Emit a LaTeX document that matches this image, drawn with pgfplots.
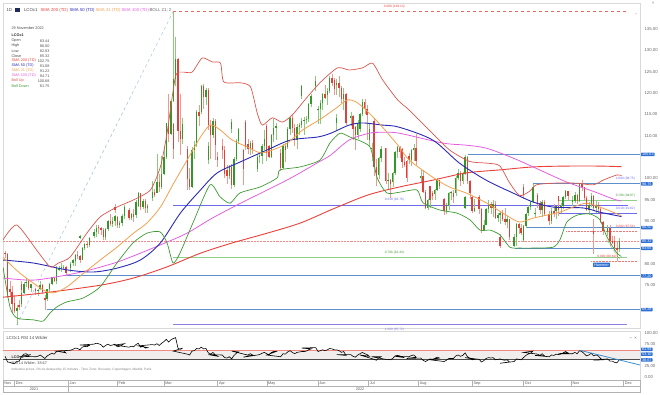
\documentclass[border=0pt]{standalone}
\usepackage{pgfplots}
\pgfplotsset{compat=1.18}
\usepackage{pgfplotstable}
\usepackage{fontspec}
\setmainfont{Liberation Sans}
\definecolor{upc}{HTML}{35962A}
\definecolor{upw}{HTML}{8CC97C}
\definecolor{dnc}{HTML}{E0403A}
\definecolor{dnw}{HTML}{F09890}
\definecolor{smaR}{HTML}{E8413A}
\definecolor{smaB}{HTML}{2A2AB5}
\definecolor{smaO}{HTML}{F2A04E}
\definecolor{smaM}{HTML}{E35FE0}
\definecolor{bolU}{HTML}{D9564C}
\definecolor{bolD}{HTML}{3E9A32}
\definecolor{hl}{HTML}{5E8FCB}
\definecolor{boxb}{HTML}{2D6FD2}
\definecolor{fibP}{HTML}{8C7FE0}
\definecolor{fibB}{HTML}{6B6BEB}
\definecolor{fibG}{HTML}{8FCF8A}
\definecolor{fibGt}{HTML}{3E9A32}
\definecolor{lbl}{HTML}{666666}
\definecolor{navy}{HTML}{1F2A5C}
\definecolor{rsiband}{HTML}{F2EDED}
\definecolor{rsired}{HTML}{F08A80}
\definecolor{rsiblue}{HTML}{3D8FD0}
\newcommand\fa{\fontsize{4.3}{5}\selectfont}
\newcommand\fb{\fontsize{3.8}{4.4}\selectfont}
\newcommand\fc{\fontsize{3.2}{3.8}\selectfont}
\tikzset{pbox/.style={fill=boxb, text=white, font=\fb, inner xsep=1pt, inner ysep=0.4pt, rounded corners=0.6pt, anchor=west, xshift=0.8pt}}
% calendar day (0 = 1 Dec 2021) -> trading-day slot; lines read from the picture use the linear equivalent
\pgfplotsset{
  tdx/.style={x filter/.expression={5*floor((x+9)/7)+min(mod(x+9,7),5)-7}},
  lin/.style={x filter/.expression={0.214+0.7156*x}},
}

\pgfplotstableread{
d o h l c
1 69.0 70.3 65.7 69.7
5 70.5 73.6 70.0 73.1
6 73.2 75.8 73.0 75.4
7 75.5 76.6 74.5 75.8
9 74.3 75.4 73.4 75.2
14 73.6 74.2 72.4 73.9
15 74.0 75.9 73.8 75.0
20 71.7 74.1 71.4 74.0
21 74.0 75.5 73.3 75.3
22 75.3 77.0 75.0 76.9
26 76.0 78.7 75.4 78.6
27 78.6 79.6 78.3 78.9
28 79.0 80.1 78.2 79.2
29 79.1 79.7 78.5 79.3
33 77.9 79.6 77.6 79.0
34 79.1 80.4 78.2 80.0
35 80.1 81.1 79.5 80.8
36 80.7 82.4 79.5 82.0
41 81.0 83.9 80.8 83.7
42 83.7 85.0 83.3 84.7
44 84.4 86.3 83.9 86.1
47 86.1 86.7 85.8 86.5
48 86.5 88.1 86.1 87.5
49 87.5 89.2 86.4 88.4
55 86.3 88.4 85.6 88.2
56 88.2 90.2 87.6 90.0
58 89.3 91.0 88.6 90.0
61 90.0 91.4 88.8 91.2
63 89.2 90.0 88.3 89.5
64 89.5 91.7 88.8 91.1
65 91.1 93.7 90.6 93.3
70 90.8 92.0 90.2 91.6
72 91.4 95.0 90.7 94.4
75 94.4 96.8 94.0 96.5
77 93.3 95.2 92.9 94.8
79 93.0 94.0 91.9 93.5
82 93.5 96.0 93.3 95.4
83 95.4 99.5 94.7 96.8
85 96.7 105.8 96.7 99.1
89 97.9 105.3 97.5 101.0
90 101.0 107.5 100.9 105.0
91 105.0 113.0 104.5 112.9
93 110.5 118.2 110.1 118.1
96 118.1 139.1 117.9 123.2
97 123.2 133.2 121.6 128.0
100 109.3 114.1 108.0 112.7
106 98.0 107.3 97.7 106.6
107 106.6 108.8 104.5 107.9
110 107.9 116.0 107.4 115.6
112 115.5 122.0 115.1 121.6
114 119.0 121.3 117.1 120.7
119 110.2 114.2 109.5 113.5
124 104.4 108.5 103.5 107.5
128 100.6 103.2 99.9 102.8
132 98.5 105.1 98.1 104.6
133 104.6 109.2 104.0 108.8
134 108.8 111.9 108.0 111.7
138 111.7 114.0 110.7 113.2
141 106.8 108.8 105.5 108.3
146 102.3 105.6 101.4 105.0
147 105.0 106.3 103.6 105.3
148 105.3 108.0 103.3 107.6
149 107.6 111.4 106.7 109.3
152 107.1 108.6 104.1 107.6
154 105.0 110.4 104.9 110.1
155 110.1 114.0 108.5 111.9
156 111.9 113.0 109.1 112.4
161 102.5 108.0 102.1 107.5
163 107.4 112.1 106.9 111.6
166 111.6 114.5 110.2 114.2
169 109.1 112.7 106.9 112.0
170 112.0 113.0 110.2 112.6
173 112.6 114.2 111.9 113.4
174 113.4 114.4 110.2 113.6
175 113.6 114.6 112.8 114.0
176 114.0 117.6 113.2 117.4
177 117.4 119.8 116.8 119.4
180 119.4 122.0 118.6 121.7
181 121.7 124.0 120.5 122.8
182 116.0 117.0 112.7 116.3
183 116.3 118.4 112.7 117.6
184 117.6 120.0 116.0 119.7
188 119.5 121.1 117.2 120.6
189 120.6 124.0 120.0 123.6
194 122.0 123.4 119.6 122.3
197 118.5 121.2 116.1 119.8
201 113.1 115.1 111.2 114.1
202 114.1 115.5 112.4 114.7
205 110.1 113.6 109.2 113.1
208 113.1 115.3 111.8 115.1
209 115.1 118.6 114.6 118.0
212 109.0 113.0 107.6 111.6
215 111.6 114.0 110.9 113.5
218 100.7 105.0 99.9 104.7
219 104.7 107.5 103.8 107.0
222 107.0 108.4 104.0 107.1
224 99.5 101.2 97.3 99.6
226 99.1 101.4 98.1 101.2
229 101.2 106.5 100.9 106.3
230 106.3 107.7 104.7 107.4
236 103.2 105.3 102.6 105.2
238 104.4 107.0 103.0 106.6
239 106.6 108.0 104.2 107.1
244 100.0 101.9 98.9 100.5
247 93.1 95.3 92.7 94.9
250 94.9 97.0 93.2 96.7
252 96.3 97.6 94.9 97.4
253 97.4 100.1 97.0 99.6
259 92.3 94.2 91.6 93.7
260 93.7 96.9 92.7 96.6
261 96.6 97.1 94.9 96.8
265 96.5 100.6 95.9 100.2
266 100.2 102.2 99.6 101.2
268 99.3 101.5 98.8 101.0
271 101.0 105.6 100.7 105.1
275 92.4 95.1 92.1 93.0
278 93.0 96.0 92.9 95.7
281 88.0 90.3 87.6 89.2
282 89.2 93.0 89.0 92.8
285 92.8 94.9 92.0 94.0
287 93.2 95.0 91.0 94.1
289 90.8 91.8 89.8 91.4
292 91.4 92.3 89.4 92.0
295 89.8 91.1 88.3 90.5
300 84.1 86.9 84.0 86.3
301 86.3 89.6 84.2 89.3
306 85.5 89.0 85.1 88.9
307 88.9 91.8 88.4 91.7
308 91.8 93.9 91.1 93.4
309 93.4 94.8 92.6 94.4
310 94.4 98.75 94.2 97.9
316 92.5 95.0 90.9 94.6
320 91.6 93.1 91.0 91.9
322 90.0 93.0 89.4 92.4
324 92.3 93.6 90.4 93.5
328 93.3 94.3 91.8 93.6
329 93.5 96.0 92.9 95.7
330 95.7 97.4 95.1 97.0
335 94.6 95.9 93.6 95.0
336 94.7 96.8 94.3 96.2
338 94.7 98.7 94.5 98.6
344 92.7 94.6 91.5 93.7
345 93.7 96.5 93.3 96.0
349 93.1 95.0 91.9 93.9
356 87.5 89.2 86.5 88.4
363 83.44 86.0 82.83 85.32
}\upT

\pgfplotstableread{
d o h l c
-6 82.5 82.9 81.4 82.2
-5 82.2 82.6 72.1 72.7
-2 74.2 76.0 72.5 73.4
-1 73.3 74.8 68.6 70.6
0 70.8 72.6 68.6 68.9
2 70.3 71.6 69.3 69.9
8 75.9 76.2 73.9 74.4
12 75.3 75.9 73.5 73.9
13 74.0 74.4 72.7 73.7
16 75.0 75.2 72.9 73.5
19 72.0 72.8 69.3 71.5
23 76.8 76.9 75.8 76.1
30 79.3 79.4 77.2 77.8
37 82.0 82.9 81.2 81.8
40 81.8 82.0 80.2 80.9
43 84.7 85.3 83.7 84.5
50 88.7 89.1 86.9 88.3
51 88.3 88.6 86.7 87.9
54 87.9 88.3 85.5 86.3
57 90.0 91.7 88.9 89.3
62 91.0 91.2 88.5 89.2
68 93.3 94.0 92.0 92.7
69 92.7 93.0 90.2 90.8
71 91.6 92.8 89.9 91.0
76 96.5 96.6 92.6 93.3
78 94.8 95.1 91.8 93.0
84 96.8 97.6 95.6 96.2
86 99.1 101.0 96.9 97.9
92 112.9 119.8 108.6 110.5
98 128.0 128.3 108.5 111.1
99 111.1 119.8 105.6 109.3
103 112.7 113.0 104.5 106.9
104 106.9 107.6 97.4 99.9
105 99.9 102.4 97.2 98.0
111 115.6 117.2 112.4 114.6
113 121.6 122.2 116.3 119.0
117 120.7 121.1 111.3 112.5
118 112.5 113.6 104.5 110.2
120 113.5 113.9 104.4 107.9
121 105.1 106.3 102.6 104.4
125 107.5 109.2 104.5 106.6
126 106.6 107.5 100.2 101.1
127 101.9 103.2 98.8 100.6
131 102.8 103.3 97.6 98.5
139 113.2 113.6 106.7 107.3
140 108.0 109.2 105.7 106.8
142 108.3 108.9 105.7 106.7
145 106.7 107.0 98.5 102.3
153 107.6 107.9 104.7 105.0
159 112.4 112.7 105.0 105.9
160 105.9 106.9 101.7 102.5
162 107.5 108.4 103.9 106.6
167 114.2 114.8 110.7 111.9
168 111.9 112.8 107.7 109.1
187 119.7 121.9 118.6 118.9
190 123.6 124.4 121.7 122.4
191 123.1 123.6 119.6 121.0
195 122.3 124.0 119.0 121.2
196 121.2 121.7 117.7 118.5
198 119.8 120.1 112.5 113.1
203 114.7 114.8 108.9 111.7
204 112.0 112.3 106.7 110.1
210 118.0 118.5 115.0 116.3
211 116.3 117.3 109.0 114.8
216 113.5 114.0 100.5 102.8
217 102.8 104.6 98.3 100.7
223 107.1 107.2 98.8 99.5
225 99.6 99.8 95.4 98.6
231 107.4 107.7 104.8 106.2
232 106.9 107.1 102.4 103.9
233 103.9 105.1 102.6 103.2
237 105.2 106.0 103.5 104.4
240 107.1 110.5 103.2 104.0
243 104.0 104.4 99.1 100.0
245 100.5 102.0 96.5 96.8
246 96.8 97.4 92.8 93.1
251 96.7 97.0 94.9 95.8
254 99.6 99.7 97.5 98.2
257 98.2 98.3 94.2 95.1
258 95.1 95.4 91.5 92.3
264 96.7 97.3 94.3 95.6
267 101.2 101.8 98.3 99.3
272 105.1 105.3 98.8 99.3
273 99.3 99.6 95.2 96.5
274 95.6 95.9 91.8 92.4
279 95.7 96.1 91.7 92.8
280 92.8 93.0 87.2 88.0
286 94.0 94.6 91.7 93.2
288 94.1 94.8 90.6 90.8
293 92.0 92.5 90.1 90.6
294 90.6 93.0 89.2 89.8
296 90.5 90.6 85.6 86.2
299 86.2 87.0 83.65 84.1
302 89.3 89.6 87.0 88.5
303 88.5 89.4 86.7 87.2
313 97.9 98.75 95.3 96.2
314 96.2 96.5 93.0 94.3
315 94.3 94.7 91.6 92.5
317 94.6 95.0 91.3 91.6
321 91.7 92.4 89.1 90.0
323 92.4 94.0 91.0 91.6
327 93.5 94.0 91.2 92.6
331 97.0 97.1 95.0 95.8
334 95.8 96.0 93.5 94.8
337 96.2 96.4 94.0 94.7
341 98.6 99.6 97.0 97.9
342 97.9 98.0 94.9 95.4
343 95.4 96.0 92.3 92.7
348 96.0 96.2 92.6 93.1
350 93.9 94.6 92.0 92.9
351 92.9 93.0 89.6 89.8
352 89.8 90.1 86.8 87.6
355 87.6 90.5 82.4 86.9
357 88.4 89.2 84.3 85.4
358 85.4 86.5 84.7 85.0
359 85.3 86.6 83.0 83.6
362 83.6 85.3 80.6 83.2
}\dnT

\begin{document}
\begin{tikzpicture}[x=1pt,y=1pt]
\path[use as bounding box] (0pt,0pt) rectangle (660pt,-394pt);

% ---------------- main price panel ----------------
\begin{axis}[
  at={(3pt,-3pt)}, anchor=north west, scale only axis,
  width=637pt, height=325pt,
  xmin=-4.93, xmax=267.9, ymin=64.98, ymax=141.09,
  clip mode=individual,
  axis line style={draw=black!15, line width=0.4pt},
  xtick=\empty,
  ytick={75,80,90,95,100,110,115,120,125,130,135},
  yticklabels={75.00,80.00,90.00,95.00,100.00,110.00,115.00,120.00,125.00,130.00,135.00},
  yticklabel pos=right,
  yticklabel style={font=\fa, text=lbl, xshift=1pt},
  major tick length=0pt, tick style={draw=none},
]
% fibonacci retracement 139.13 -> 65.72
\addplot[lin, smaR!80, line width=0.45pt, dashed] coordinates {(94.7,139.13) (366,139.13)};
\addplot[lin, fibB, line width=0.7pt] coordinates {(94.7,93.76) (367,93.76)};
\addplot[lin, fibG, line width=0.8pt] coordinates {(94.7,81.43) (366,81.43)};
\addplot[lin, fibP, line width=0.8pt] coordinates {(94.7,65.72) (366,65.72)};
\node[font=\fc, text=smaR, anchor=south] at (axis cs:162.7,139.13) {0.000 (139.13)};
\node[font=\fc, text=fibB, anchor=south] at (axis cs:162.7,93.76) {0.618 (93.76)};
\node[font=\fc, text=fibGt, anchor=south] at (axis cs:162.7,81.43) {0.786 (81.43)};
\node[font=\fc, text=fibP, anchor=north] at (axis cs:162.7,65.72) {1.000 (65.72)};
% recent fibonacci
\addplot[lin, fibG, line width=0.5pt] coordinates {(325,94.87) (372,94.87)};
\addplot[lin, fibB, line width=0.5pt] coordinates {(325,91.82) (372,91.82)};
\addplot[lin, smaR!70, line width=0.45pt, densely dotted] coordinates {(330,87.54) (372,87.54)};
\addplot[lin, smaR!70, line width=0.45pt, densely dotted] coordinates {(345,80.61) (372,80.61)};
\node[font=\fc, text=fibB, anchor=south east] at (axis cs:267.2,98.75) {1.000 (98.75)};
\node[font=\fc, text=fibGt, anchor=south east] at (axis cs:267.2,94.87) {0.786 (94.87)};
\node[font=\fc, text=fibB, anchor=south east] at (axis cs:267.2,91.82) {0.618 (91.82)};
\node[font=\fc, text=smaR, anchor=south east] at (axis cs:267.2,87.54) {0.382 (87.54)};
\node[font=\fc, text=smaR, anchor=south east] at (axis cs:259.3,80.61) {0.000 (80.61)};
% trend line
\addplot[lin, hl!60, line width=0.5pt, dashed] coordinates {(1,65.72) (94.7,139.13)};
% support / resistance
\addplot[lin, hl, line width=0.9pt] coordinates {(271,105.63) (374,105.63)};
\addplot[lin, hl, line width=0.9pt] coordinates {(310,98.75) (374,98.75)};
\addplot[lin, hl, line width=0.9pt] coordinates {(306,88.50) (374,88.50)};
\addplot[lin, hl, line width=0.9pt] coordinates {(299,83.65) (374,83.65)};
\addplot[lin, hl, line width=0.9pt] coordinates {(30,77.20) (374,77.20)};
\addplot[lin, hl, line width=0.9pt] coordinates {(19,69.28) (374,69.28)};
\addplot[lin, smaR!60, line width=0.45pt, densely dotted] coordinates {(-7.2,85.32) (374,85.32)};
% candles (wicks and bodies as vertical segments)
\addplot[tdx, upw, line width=0.45pt, forget plot, quiver={u=0, v=\thisrow{h}-\thisrow{l}}] table[x=d, y=l] \upT;
\addplot[tdx, dnw, line width=0.45pt, forget plot, quiver={u=0, v=\thisrow{h}-\thisrow{l}}] table[x=d, y=l] \dnT;
\addplot[tdx, upc, line width=1.4pt, forget plot, quiver={u=0, v=\thisrow{c}-\thisrow{o}}] table[x=d, y=o] \upT;
\addplot[tdx, dnc, line width=1.4pt, forget plot, quiver={u=0, v=\thisrow{o}-\thisrow{c}}] table[x=d, y=c] \dnT;
% SMA 200
\addplot[lin, smaR, line width=0.9pt, smooth, tension=0.5] coordinates {(-7.2,72.2) (17,73.2) (51,75.0) (71,76.7) (91,79.3) (111,82.5) (130,84.9) (151,87.2) (171,89.6) (190,92.8) (211,96.1) (230,98.0) (250,99.6) (270,101.3) (290,102.0) (310,102.7) (330,102.9) (350,102.9) (363,102.75)};
% SMA 100
\addplot[lin, smaM, line width=0.8pt, smooth, tension=0.5] coordinates {(-7.2,76.7) (11,76.2) (31,77.4) (45,78.6) (61,80.4) (75,82.5) (91,85.1) (103,87.2) (118,90.7) (135,94.2) (151,97.3) (166,100.3) (182,103.9) (189,105.5) (200,109.0) (212,110.6) (220,110.8) (230,110.6) (256,108.3) (270,107.8) (282,107.1) (298,104.8) (314,102.0) (330,99.2) (346,97.0) (358,95.2) (363,94.71)};
% SMA 50
\addplot[lin, smaB, line width=0.9pt, smooth, tension=0.5] coordinates {(-7.2,80.9) (11,80.2) (31,78.6) (47,78.1) (61,79.0) (75,80.9) (87,84.9) (99,91.9) (111,97.3) (121,101.3) (135,103.9) (151,106.7) (165,109.0) (181,109.7) (189,110.6) (200,112.5) (208,113.0) (220,112.5) (230,112.0) (250,109.0) (266,103.6) (282,99.6) (298,96.6) (310,94.5) (322,93.3) (340,93.1) (350,92.1) (363,91.08)};
% SMA 21
\addplot[lin, smaO, line width=0.8pt, smooth, tension=0.5] coordinates {(-7.2,81.6) (3,77.8) (17,73.9) (23,73.2) (31,74.6) (41,77.8) (51,80.9) (61,83.9) (71,87.2) (79,89.6) (87,93.3) (95,98.9) (103,104.3) (111,109.7) (117,112.5) (123,111.3) (130,109.0) (139,107.4) (147,106.0) (155,106.8) (163,108.3) (172,111.3) (182,113.7) (188,115.3) (193,116.7) (199,118.4) (205,117.7) (212,115.3) (220,112.0) (230,107.4) (236,104.3) (250,100.3) (260,98.0) (270,96.6) (282,94.3) (294,91.4) (302,89.8) (310,90.7) (318,91.4) (326,92.1) (334,93.3) (342,94.2) (350,93.3) (358,92.1) (363,91.22)};
% Bollinger up
\addplot[lin, bolU, line width=0.7pt, smooth, tension=0.4] coordinates {(-7.2,85.6) (1,89.1) (13,83.2) (21,79.3) (26,80.2) (33,81.6) (43,87.2) (51,91.0) (61,93.3) (71,95.0) (81,97.3) (87,102.7) (91,110.6) (96,123.8) (100,124.9) (106,124.9) (112,128.2) (118,127.3) (123,127.0) (125,122.6) (135,122.4) (141,121.4) (145,115.3) (148,112.5) (154,114.2) (160,113.2) (166,114.9) (175,119.1) (183,122.6) (193,125.9) (200,125.4) (208,125.9) (214,127.0) (220,123.1) (229,118.4) (236,116.0) (248,111.3) (260,106.7) (272,104.0) (282,103.6) (290,103.0) (296,99.0) (302,96.0) (308,97.0) (312,98.5) (322,98.9) (336,98.9) (346,98.5) (352,99.6) (360,100.8) (363,100.68)};
% Bollinger down
\addplot[lin, bolD, line width=0.7pt, smooth, tension=0.4] coordinates {(-7.2,79.3) (-3,69.9) (1.2,67.3) (10.8,66.9) (16.8,66.6) (21,68.5) (25,69.9) (31,71.1) (40.7,72) (50.9,74.6) (61,80.2) (70.6,84.9) (79,87.2) (86.8,87.5) (91,84.9) (94.6,80.2) (98.7,82.5) (106.5,89.6) (116.7,98.5) (122.7,95.7) (128.7,94.2) (134.6,96.6) (146.6,98) (156.8,100.1) (158.6,102) (170.6,102.7) (182.5,104.3) (188.5,108.3) (194.5,110.6) (200.5,109.7) (212.4,107.4) (216.6,100.3) (222.6,96.6) (230.4,96.8) (240.6,97.3) (244.2,94.3) (254.3,92.6) (264.5,91.9) (272.3,90.3) (278.3,87.9) (284.3,87.9) (290.2,86.8) (296.2,83.9) (302.2,83.7) (310,83.7) (322,83.9) (326.1,85.6) (330.3,89.8) (336.3,91.4) (344.1,91.7) (350.1,90.3) (354.3,86.3) (360.3,82.5) (363,81.75)};
\addplot[lin, bolD, line width=0.5pt, densely dotted] coordinates {(354,85.6) (362,81.0)};
% price boxes
\node[pbox] at (axis cs:267.9,105.63) {105.63};
\node[pbox] at (axis cs:267.9,98.75) {98.75};
\node[pbox] at (axis cs:267.9,88.50) {88.50};
\node[pbox] at (axis cs:267.9,85.32) {85.32};
\node[pbox] at (axis cs:267.9,83.65) {83.65};
\node[pbox] at (axis cs:267.9,77.20) {77.20};
\node[pbox] at (axis cs:267.9,69.28) {69.28};
\node[fill=boxb, text=white, font=\fb, inner xsep=1.2pt, inner ysep=0.8pt, rounded corners=0.5pt] at (axis cs:251.4,79.8) {Hammer};
\end{axis}

% ---------------- RSI panel ----------------
\begin{axis}[
  at={(3pt,-331pt)}, anchor=north west, scale only axis,
  width=637pt, height=49pt,
  xmin=-4.93, xmax=267.9, ymin=-7.6, ymax=105.3,
  clip mode=individual,
  axis line style={draw=black!15, line width=0.4pt},
  xtick=\empty,
  ytick={0,25,75,100}, yticklabels={0.00,25.00,75.00,100.00},
  yticklabel pos=right,
  yticklabel style={font=\fa, text=lbl, xshift=1pt},
  major tick length=0pt, tick style={draw=none},
]
\fill[rsiband] (axis cs:-4.93,40) rectangle (axis cs:267.9,60);
\addplot[rsired, line width=0.8pt] coordinates {(-4.93,60) (267.9,60)};
\addplot[black!70, line width=0.6pt] coordinates {(-4.93,40) (267.9,40)};
\addplot[tdx, black, line width=0.6pt] coordinates {(-6,47) (-5,34) (-2,33) (-1,31) (0,30) (1,35) (2,36) (5,46) (6,52) (7,53) (8,49) (9,51) (12,47) (13,46) (14,47) (15,50) (16,46) (19,42) (20,48) (21,51) (22,54) (23,52) (26,58) (27,59) (28,60) (29,60) (30,55) (33,59) (34,61) (35,63) (36,66) (37,65) (40,62) (41,68) (42,70) (43,69) (44,72) (47,73) (48,75) (49,77) (50,76) (51,74) (54,68) (55,72) (56,75) (57,72) (58,73) (61,75) (62,69) (63,70) (64,73) (65,76) (68,73) (69,68) (70,70) (71,69) (72,74) (75,77) (76,68) (77,71) (78,66) (79,67) (82,71) (83,74) (84,73) (85,76) (86,72) (89,77) (90,81) (91,86) (92,80) (93,85) (96,88) (97,90) (98,66) (99,63) (100,66) (103,59) (104,52) (105,50) (106,59) (107,60) (110,65) (111,64) (112,68) (113,64) (114,65) (117,55) (118,52) (119,56) (120,50) (121,47) (124,51) (125,50) (126,44) (127,43) (128,46) (131,41) (132,49) (133,54) (134,57) (138,59) (139,51) (140,50) (141,53) (142,50) (145,45) (146,50) (147,51) (148,54) (149,56) (152,53) (153,50) (154,56) (155,58) (156,58) (159,50) (160,46) (161,53) (162,52) (163,57) (166,60) (167,56) (168,53) (169,56) (170,57) (173,58) (174,58) (175,59) (176,62) (177,64) (180,66) (181,67) (182,58) (183,60) (184,62) (187,60) (188,62) (189,65) (190,64) (191,62) (194,62) (195,60) (196,56) (197,58) (198,49) (201,51) (202,51) (203,47) (204,45) (205,50) (208,53) (209,56) (210,53) (211,51) (212,47) (215,50) (216,40) (217,38) (218,43) (219,46) (222,46) (223,40) (224,40) (225,39) (226,42) (229,48) (230,49) (231,48) (232,45) (233,44) (236,47) (237,46) (238,49) (239,50) (240,45) (243,42) (244,43) (245,38) (246,35) (247,38) (250,41) (251,40) (252,42) (253,45) (254,43) (257,39) (258,35) (259,38) (260,42) (261,42) (264,42) (265,48) (266,50) (267,47) (268,49) (271,55) (272,46) (273,43) (274,39) (275,40) (278,44) (279,40) (280,34) (281,37) (282,42) (285,44) (286,43) (287,44) (288,39) (289,40) (292,41) (293,39) (294,38) (295,39) (296,34) (299,31) (300,35) (301,41) (302,40) (303,39) (306,44) (307,49) (308,52) (309,54) (310,59) (313,56) (314,52) (315,49) (316,53) (317,48) (320,49) (321,46) (322,50) (323,49) (324,52) (327,51) (328,52) (329,55) (330,58) (331,55) (334,53) (335,53) (336,56) (337,53) (338,60) (341,58) (342,53) (343,48) (344,50) (345,54) (348,48) (349,50) (350,48) (351,42) (352,39) (355,38) (356,41) (357,36) (358,36) (359,33) (362,32) (363,38.67)};
\addplot[rsiblue, line width=0.8pt] coordinates {(242,61) (267.9,27)};
\node[pbox] at (axis cs:267.9,63) {61.94};
\node[pbox] at (axis cs:267.9,52) {53.10};
\node[pbox] at (axis cs:267.9,38.67) {38.67};
\end{axis}

% ---------------- header & legend ----------------
\node[anchor=west, font=\fa, text=black!70] at (3pt,-10pt) {1D};
\fill[navy] (14.5pt,-7.6pt) rectangle (20pt,-12.4pt);
\node[anchor=west, font=\fa, text=black!75] at (20.5pt,-10pt) {LCOc1};
\node[anchor=west, font=\fa, text=smaR] at (37pt,-10pt) {SMA 200 (TD)};
\node[anchor=west, font=\fa, text=smaB] at (66pt,-10pt) {SMA 50 (TD)};
\node[anchor=west, font=\fa, text=smaO] at (92pt,-10pt) {SMA 21 (TD)};
\node[anchor=west, font=\fa, text=smaM] at (118pt,-10pt) {SMA 100 (TD)};
\node[anchor=west, font=\fa, text=black!60] at (146pt,-10pt) {BOLL 21; 2};
\node[font=\fa, text=black!50] at (653pt,-3pt) {\texttimes};
\node[font=\fa, text=black!50] at (636pt,-15pt) {\textendash};

\node[anchor=west, font=\fb, text=black!70] at (8pt,-28pt) {29 November 2022};
\node[anchor=west, font=\fb\bfseries, text=black!80] at (8pt,-35pt) {LCOc1};
\foreach \lab/\val/\col/\yy in {Open/83.44/black!70/41, High/86.00/black!70/46, Low/82.83/black!70/51, Close/85.32/black!70/56, SMA 200 (TD)/102.75/smaR/61, SMA 50 (TD)/91.08/smaB/66, SMA 21 (TD)/91.22/smaO/71, SMA 100 (TD)/94.71/smaM/76, Boll Up/100.68/bolU/81, Boll Down/81.75/bolD/86}{
  \node[anchor=west, font=\fb, text=\col] at (8pt,-\yy pt) {\lab};
  \node[anchor=east, font=\fb, text=black!70] at (53pt,-\yy pt) {\val};
}

% RSI texts
\node[anchor=west, font=\fa, text=black!70] at (3pt,-338pt) {LCOc1 RSI 14 Wilder};
\node[anchor=west, font=\fa, text=black!60] at (626pt,-338pt) {\textendash\ \ \texttimes};
\node[anchor=west, font=\fb\bfseries, text=black!80] at (8pt,-357pt) {LCOc1};
\node[anchor=west, font=\fb, text=black!70] at (8pt,-363pt) {RSI 14 Wilder: 38.67};
\node[anchor=west, font=\fc, text=black!50] at (8pt,-370pt) {Indicative prices. Prices delayed by 15 minutes - Time Zone: Brussels, Copenhagen, Madrid, Paris};

% date strip
\draw[black!30, line width=0.4pt] (3pt,-380.5pt) rectangle (640pt,-392.5pt);
\draw[black!30, line width=0.4pt] (3pt,-386.5pt) -- (640pt,-386.5pt);
\foreach \xx in {14.5,68.2,117.2,163.9,217.6,266.7,318.0,368.4,418.4,472.2,523.5,571.2,623.5}{
  \draw[black!30, line width=0.4pt] (\xx pt,-380.5pt) -- (\xx pt,-386.5pt);
}
\draw[black!30, line width=0.4pt] (68.2pt,-386.5pt) -- (68.2pt,-392.5pt);
\foreach \xx/\mm in {3/Nov,14.5/Dec,68.2/Jan,117.2/Feb,163.9/Mar,217.6/Apr,266.7/May,318.0/Jun,368.4/Jul,418.4/Aug,472.2/Sep,523.5/Oct,571.2/Nov,623.5/Dec}{
  \node[anchor=west, font=\fb, text=black!65, inner sep=0pt] at (\xx pt+1.2pt,-383.6pt) {\mm};
}
\node[font=\fb, text=black!65, inner sep=0pt] at (34pt,-389.6pt) {2021};
\node[font=\fb, text=black!65, inner sep=0pt] at (360pt,-389.6pt) {2022};
\end{tikzpicture}
\end{document}
